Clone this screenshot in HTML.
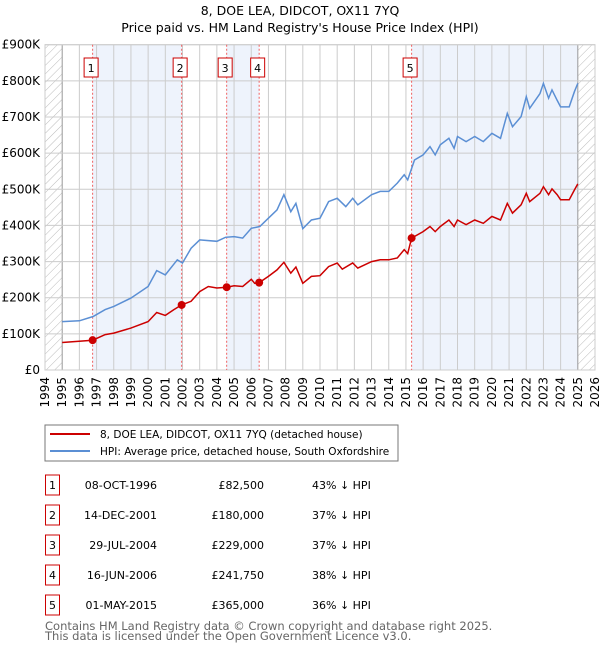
<!DOCTYPE html>
<html><head><meta charset="utf-8"><style>
body{margin:0;background:#fff;font-family:"Liberation Sans","DejaVu Sans",sans-serif;}
svg text{font-family:"DejaVu Sans","Liberation Sans",sans-serif;}
</style></head><body>
<svg id="c" width="600" height="650" viewBox="0 0 600 650" xmlns="http://www.w3.org/2000/svg">
<defs><pattern id="hatch" width="6" height="6" patternUnits="userSpaceOnUse" patternTransform="rotate(45)"><line x1="0" y1="0" x2="0" y2="6" stroke="#bbb" stroke-width="1"/></pattern></defs>
<text x="300" y="15" text-anchor="middle" font-size="12.5">8, DOE LEA, DIDCOT, OX11 7YQ</text>
<text x="300" y="32" text-anchor="middle" font-size="12.5">Price paid vs. HM Land Registry's House Price Index (HPI)</text>
<g id="plot"></g>
<rect x="45" y="425" width="353" height="36" fill="#fff" stroke="#777"/>
<line x1="50" y1="434" x2="90" y2="434" stroke="#cc0000" stroke-width="2"/>
<text x="100" y="438" font-size="10.5">8, DOE LEA, DIDCOT, OX11 7YQ (detached house)</text>
<line x1="50" y1="451" x2="90" y2="451" stroke="#5b8fd4" stroke-width="2"/>
<text x="100" y="455" font-size="10.5">HPI: Average price, detached house, South Oxfordshire</text>
<g id="tbl"></g>
<text x="45" y="630" font-size="11.5" fill="#666">Contains HM Land Registry data © Crown copyright and database right 2025.</text>
<text x="45" y="640" font-size="11.5" fill="#666">This data is licensed under the Open Government Licence v3.0.</text>
</svg>
<script>
const hpiYears=[1995,1996,1996.8,1997.5,1998,1999,2000,2000.5,2001,2001.7,2002,2002.5,2003,2004,2004.5,2005,2005.5,2006,2006.5,2007,2007.5,2007.9,2008.3,2008.6,2009,2009.5,2010,2010.5,2011,2011.5,2011.9,2012.2,2013,2013.5,2014,2014.5,2014.9,2015.1,2015.5,2016,2016.4,2016.7,2017,2017.5,2017.8,2018,2018.5,2019,2019.5,2020,2020.5,2020.9,2021.2,2021.7,2022,2022.2,2022.8,2023,2023.3,2023.5,2023.8,2024,2024.5,2024.8,2025];
const hpiValues=[134,136,148,167,176,199,231,275,263,305,296,337,360,356,367,369,365,392,397,420,443,485,438,461,391,415,420,466,475,452,475,457,485,494,494,517,540,526,581,595,618,595,623,641,613,646,632,646,632,655,641,710,673,701,756,724,765,793,752,775,746,728,728,770,793];
const priceYears=[1995,1996.77,1997.5,1998,1999,2000,2000.5,2001,2001.5,2001.95,2002.5,2003,2003.5,2004,2004.57,2005,2005.5,2006,2006.2,2006.46,2007,2007.5,2007.9,2008.3,2008.6,2009,2009.5,2010,2010.5,2011,2011.3,2011.9,2012.2,2013,2013.5,2014,2014.5,2014.9,2015.1,2015.33,2016,2016.4,2016.7,2017,2017.5,2017.8,2018,2018.5,2019,2019.5,2020,2020.5,2020.9,2021.2,2021.7,2022,2022.2,2022.8,2023,2023.3,2023.5,2023.8,2024,2024.5,2024.8,2025];
const priceValues=[76,82.5,98,102,116,134,159,151,167,180,190,217,231,227,229,233,231,251,240,241.75,259,277,298,268,285,240,259,261,286,296,279,296,282,300,305,305,310,333,322,365,383,397,383,397,415,397,415,402,415,406,425,415,461,434,457,489,466,489,507,485,501,485,471,471,498,515];
const saleLabels=["1","2","3","4","5"];
const saleYears=[1996.77,2001.95,2004.57,2006.46,2015.33];
const saleValues=[82.5,180,229,241.75,365];
const saleDates=["08-OCT-1996","14-DEC-2001","29-JUL-2004","16-JUN-2006","01-MAY-2015"];
const salePrices=["£82,500","£180,000","£229,000","£241,750","£365,000"];
const saleHpi=["43% ↓ HPI","37% ↓ HPI","37% ↓ HPI","38% ↓ HPI","36% ↓ HPI"];
const yTicks=[0,100,200,300,400,500,600,700,800,900];
const yTickLabels=["£0","£100K","£200K","£300K","£400K","£500K","£600K","£700K","£800K","£900K"];
const xTicks=[1994,1995,1996,1997,1998,1999,2000,2001,2002,2003,2004,2005,2006,2007,2008,2009,2010,2011,2012,2013,2014,2015,2016,2017,2018,2019,2020,2021,2022,2023,2024,2025,2026];

const NS="http://www.w3.org/2000/svg";
const X0=45,X1=595,Y0=370,Y1=44.7;
const xs=y=>X0+(y-1994)/(2026-1994)*(X1-X0);
const ys=v=>Y0-v/900*(Y0-Y1);
function mk(tag,attrs,parent){const e=document.createElementNS(NS,tag);for(const k in attrs)e.setAttribute(k,attrs[k]);parent.appendChild(e);return e;}
const g=document.getElementById('plot');
let e;
const spans=[[saleYears[0],saleYears[1]],[saleYears[2],saleYears[3]],[saleYears[4],2025]];
spans.forEach(s=>{e=mk('rect',{x:xs(s[0]),y:Y1,width:xs(s[1])-xs(s[0]),height:Y0-Y1,fill:'#eef3fc'},g);

});
[[1994,1995],[2025,2026]].forEach(s=>{e=mk('rect',{x:xs(s[0]),y:Y1,width:xs(s[1])-xs(s[0]),height:Y0-Y1,fill:'url(#hatch)'},g);

});
xTicks.forEach((t,i)=>{e=mk('line',{x1:xs(t),x2:xs(t),y1:Y1,y2:Y0,stroke:(t==1995||t==2025)?'#999':'#ccc','stroke-width':1},g);


e=mk('text',{x:0,y:0,'font-size':12,'text-anchor':'end',transform:`translate(${xs(t)+4},${Y0+7}) rotate(-90)`},g);
e.textContent=t;

});
yTicks.forEach((t,i)=>{e=mk('line',{x1:X0,x2:X1,y1:ys(t),y2:ys(t),stroke:'#ccc','stroke-width':1},g);


e=mk('text',{x:40,y:ys(t)+4,'font-size':12,'text-anchor':'end'},g);
e.textContent=yTickLabels[i];

});
e=mk('rect',{x:X0,y:Y1,width:X1-X0,height:Y0-Y1,fill:'none',stroke:'#ccc'},g);


saleYears.forEach((y,i)=>{e=mk('line',{x1:xs(y),x2:xs(y),y1:Y1,y2:Y0,stroke:'#f06060','stroke-width':1,'stroke-dasharray':'2,2'},g);


e=mk('rect',{x:xs(y)-8.5,y:58,width:14,height:19,fill:'#fff',stroke:'#cc0000'},g);


e=mk('text',{x:xs(y)-1.5,y:72,'font-size':11,'text-anchor':'middle'},g);
e.textContent=saleLabels[i];

});
const pts=(xa,va)=>xa.map((x,i)=>xs(x).toFixed(1)+','+ys(va[i]).toFixed(1)).join(' ');
e=mk('polyline',{points:pts(hpiYears,hpiValues),fill:'none',stroke:'#5b8fd4','stroke-width':1.5},g);


e=mk('polyline',{points:pts(priceYears,priceValues),fill:'none',stroke:'#cc0000','stroke-width':1.5},g);


saleYears.forEach((y,i)=>{e=mk('circle',{cx:xs(y),cy:ys(saleValues[i]),r:4,fill:'#cc0000'},g);

});
const tb=document.getElementById('tbl');
saleLabels.forEach((l,i)=>{const yy=475+i*30;
e=mk('rect',{x:45.5,y:yy,width:14,height:20,fill:'#fff',stroke:'#cc0000'},tb);


e=mk('text',{x:52.5,y:yy+14,'font-size':11,'text-anchor':'middle'},tb);e.textContent=l;


e=mk('text',{x:157,y:yy+14,'font-size':11,'text-anchor':'end'},tb);e.textContent=saleDates[i];


e=mk('text',{x:264,y:yy+14,'font-size':11,'text-anchor':'end'},tb);e.textContent=salePrices[i];


e=mk('text',{x:312,y:yy+14,'font-size':11},tb);e.textContent=saleHpi[i];

});
</script>
</body></html>
